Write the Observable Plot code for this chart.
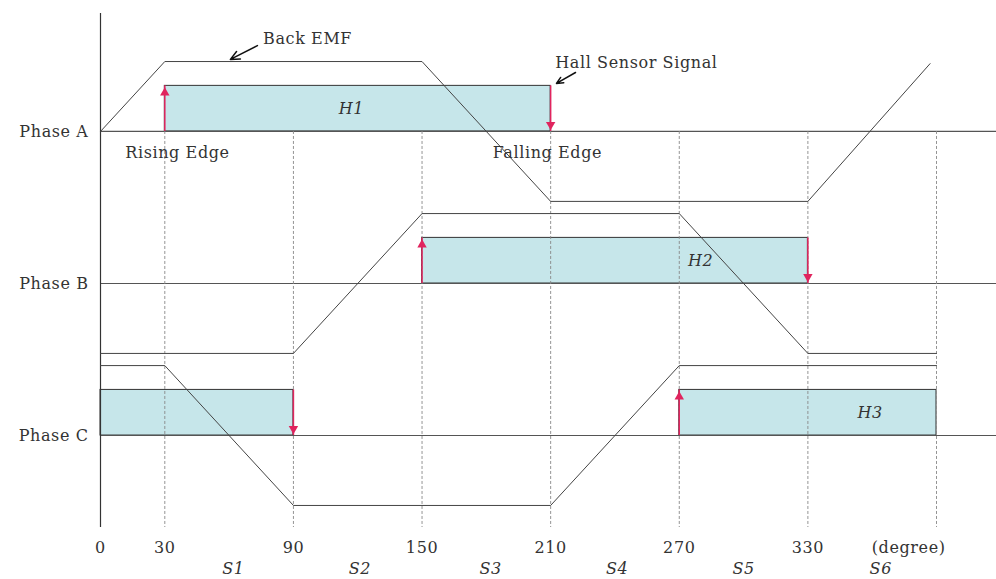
<!DOCTYPE html>
<html><head><meta charset="utf-8">
<script src="https://cdn.jsdelivr.net/npm/d3@7"></script>
<script src="https://cdn.jsdelivr.net/npm/@observablehq/plot@0.6"></script>
<style>body{margin:0;background:#fff} svg text{letter-spacing:0.6px}</style>
</head><body><div id="chart"></div>
<script>
// ---- data ----
const phases = ["Phase A", "Phase B", "Phase C"];
const phaseLevel = [2, 1, 0];
// back-EMF breakpoints [angle(deg), normalized value]
const emfA = [[0, 0], [30, 1], [150, 1], [210, -1], [330, -1], [387, 0.97]];
const emfB = [[0, -1], [90, -1], [150, 1], [270, 1], [330, -1], [390, -1]];
const emfC = [[0, 1], [30, 1], [90, -1], [210, -1], [270, 1], [390, 1]];
// hall sensor high intervals [start, end]
const hallA = [[30, 210]];
const hallB = [[150, 330]];
const hallC = [[270, 390], [0, 90]];
const hallNames = ["H1", "H2", "H3"];
const hallNameX = [117, 280, 359];
const risingEdges = [30, 150, 270];   // A, B, C
const fallingEdges = [210, 330, 90];  // A, B, C
const dividers = [30, 90, 150, 210, 270, 330, 390];
const xTicks = [0, 30, 90, 150, 210, 270, 330];
const sectors = ["S1", "S2", "S3", "S4", "S5", "S6"];
const sectorX = [62, 121, 182, 241, 300, 364];

// ---- layout constants ----
const AMP = 0.46, HALL = 0.30;
const yMin = -0.605, yMax = 2.776;
const red = "#e0245e", ink = "#333";

const emfRows = [emfA, emfB, emfC].flatMap((s, i) =>
  s.map(([x, v]) => ({phase: phases[i], x, y: phaseLevel[i] + AMP * v})));
const hallRows = [hallA, hallB, hallC].flatMap((s, i) =>
  s.map(([x1, x2]) => ({phase: phases[i], x1, x2, y1: phaseLevel[i], y2: phaseLevel[i] + HALL})));
const riseRows = risingEdges.map((x, i) => ({x, y1: phaseLevel[i], y2: phaseLevel[i] + HALL}));
const fallRows = fallingEdges.map((x, i) => ({x, y1: phaseLevel[i] + HALL, y2: phaseLevel[i]}));
const hallLabelRows = hallNames.map((t, i) => ({t, x: hallNameX[i], y: phaseLevel[i] + HALL / 2}));
const phaseRows = phases.map((t, i) => ({t, y: phaseLevel[i]}));

const annText = [
  {t: "Back EMF", x: 96.6, y: 2.612},
  {t: "Hall Sensor Signal", x: 250, y: 2.45},
  {t: "Rising Edge", x: 35.9, y: 1.862},
  {t: "Falling Edge", x: 208.5, y: 1.862}
];
const annArrows = [
  {x1: 73.2, y1: 2.565, x2: 60.6, y2: 2.474},
  {x1: 221.6, y1: 2.388, x2: 212.7, y2: 2.316}
];

const font = "DejaVu Serif";
const chart = Plot.plot({
  width: 996, height: 579,
  x: {domain: [0, 390], range: [100, 936], axis: null},
  y: {domain: [yMin, yMax], range: [527, 13], axis: null},
  style: {fontFamily: font, background: "#fff"},
  marks: [
    Plot.rect(hallRows, {x1: "x1", x2: "x2", y1: "y1", y2: "y2", fill: "#c6e6ea", stroke: ink, strokeWidth: 1}),
    Plot.ruleY(phaseLevel, {x1: 0, x2: 418, stroke: "#555", strokeWidth: 1.2}),
    Plot.ruleX(dividers, {y1: phaseLevel[0], y2: yMin, stroke: "#888", strokeWidth: 0.9, strokeDasharray: "3,2"}),
    Plot.ruleX([0], {y1: yMin, y2: yMax, stroke: ink, strokeWidth: 1.2}),
    Plot.line(emfRows, {x: "x", y: "y", z: "phase", stroke: "#444", strokeWidth: 1}),
    Plot.ruleX(riseRows, {x: "x", y1: "y1", y2: "y2", stroke: red, strokeWidth: 1.5}),
    Plot.ruleX(fallRows, {x: "x", y1: "y1", y2: "y2", stroke: red, strokeWidth: 1.5}),
    Plot.dot(riseRows, {x: "x", y: "y2", symbol: "triangle2", r: 4.5, fill: red, dy: 6.8}),
    Plot.dot(fallRows, {x: "x", y: "y2", symbol: "triangle2", r: 4.5, fill: red, rotate: 180, dy: -6.8}),
    Plot.arrow(annArrows, {x1: "x1", y1: "y1", x2: "x2", y2: "y2", stroke: "#111", strokeWidth: 1.5, headLength: 10, headAngle: 50}),
    Plot.text(phaseRows, {x: 0, y: "y", text: "t", dx: -12, textAnchor: "end", fontSize: 16, fill: ink}),
    Plot.text(hallLabelRows, {x: "x", y: "y", text: "t", fontSize: 16, fontStyle: "italic", fill: ink}),
    Plot.text(annText, {x: "x", y: "y", text: "t", fontSize: 16, fill: ink}),
    Plot.text(xTicks, {x: d => d, y: yMin, dy: 20, text: d => String(d), fontSize: 16, fill: ink}),
    Plot.text(["(degree)"], {x: 377, y: yMin, dy: 20, text: d => d, fontSize: 16, fill: ink}),
    Plot.text(sectors, {x: (d, i) => sectorX[i], y: yMin, dy: 41, text: d => d, fontSize: 16, fontStyle: "italic", fill: ink})
  ]
});
document.getElementById("chart").append(chart);
</script></body></html>
